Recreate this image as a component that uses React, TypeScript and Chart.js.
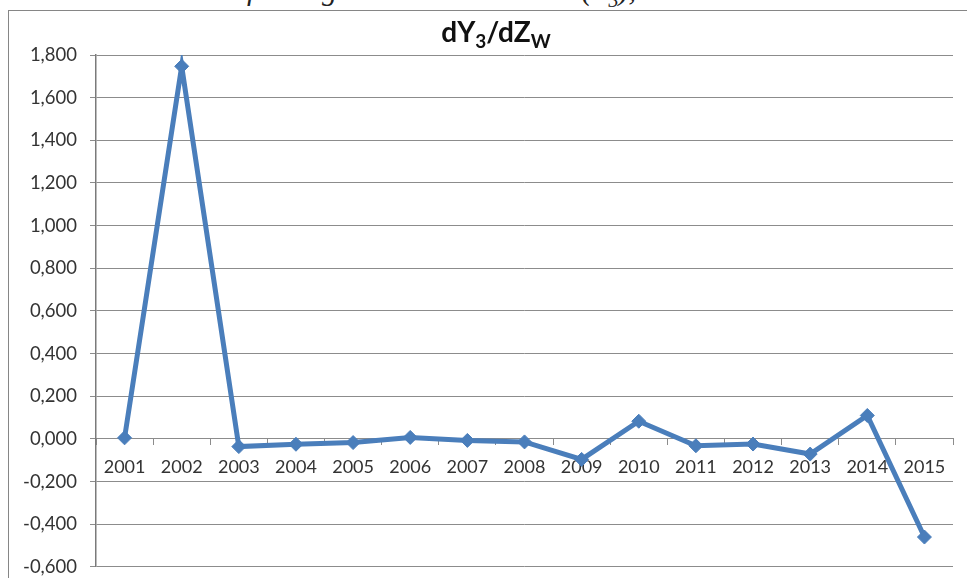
import { useEffect, useRef } from 'react';
import { Chart, registerables } from 'chart.js';

Chart.register(...registerables);

const years = ['2001', '2002', '2003', '2004', '2005', '2006', '2007', '2008', '2009', '2010', '2011', '2012', '2013', '2014', '2015'];
const dY3dZw = [0.005, 1.747, -0.036, -0.025, -0.017, 0.007, -0.007, -0.014, -0.096, 0.083, -0.032, -0.024, -0.071, 0.11, -0.46];
const yMin = -0.6;
const yMax = 1.8;
const yStep = 0.2;

const fmt = (v: number) => {
  const n = Math.abs(v) < 1e-9 ? 0 : v;
  return n.toFixed(3).replace('.', ',');
};

export default function App() {
  const ref = useRef<HTMLCanvasElement | null>(null);

  useEffect(() => {
    if (!ref.current) return;
    const blue = '#4A7EBB';
    const grid = '#8C8C8C';
    const chart = new Chart(ref.current, {
      type: 'line',
      data: {
        labels: years,
        datasets: [
          {
            data: dY3dZw,
            borderColor: blue,
            backgroundColor: blue,
            borderWidth: 5,
            tension: 0,
            pointStyle: 'rectRot',
            pointRadius: 7,
            pointBorderWidth: 1,
            pointBackgroundColor: blue,
            pointBorderColor: blue,
          },
        ],
      },
      options: {
        animation: false,
        responsive: false,
        devicePixelRatio: 1,
        layout: { padding: { left: 0, top: 55, right: 14, bottom: 0 } },
        plugins: {
          legend: { display: false },
          title: { display: false },
          tooltip: { enabled: false },
        },
        scales: {
          x: {
            type: 'category',
            position: { y: 0 } as any,
            offset: true,
            afterFit: (s: any) => {
              s.height = 0;
            },
            grid: {
              drawOnChartArea: false,
              offset: true,
              tickLength: 6,
              color: grid,
              lineWidth: 1,
            },
            border: { display: true, color: grid, width: 1 },
            ticks: {
              color: '#333333',
              font: { family: 'Lato', size: 18 },
              padding: 11,
              maxRotation: 0,
              autoSkip: false,
            },
          },
          y: {
            min: yMin,
            max: yMax,
            afterFit: (s: any) => {
              s.width = 96;
            },
            grid: {
              color: grid,
              lineWidth: 1,
              tickLength: 6,
            },
            border: { display: true, color: '#7A7A7A', width: 1.5 },
            ticks: {
              stepSize: yStep,
              color: '#333333',
              font: { family: 'Lato', size: 18.5 },
              padding: 13,
              callback: (v: any) => fmt(Number(v)),
            },
          },
        },
      },
    });
    return () => chart.destroy();
  }, []);

  return (
    <div
      style={{
        position: 'fixed',
        left: 0,
        top: 0,
        width: 967,
        height: 578,
        overflow: 'hidden',
        background: '#fff',
      }}
    >
      <div
        style={{
          position: 'absolute',
          left: 232,
          top: -25,
          lineHeight: '30px',
          fontFamily: '"Liberation Serif", serif',
          fontStyle: 'italic',
          fontSize: 30,
          color: '#222',
          whiteSpace: 'nowrap',
        }}
      >
        of the agricultural land area (Y<sub style={{ fontSize: 20 }}>3</sub>), 2001–2015
      </div>
      <div
        style={{
          position: 'absolute',
          left: 8,
          top: 10,
          width: 1000,
          height: 600,
          border: '1px solid #868686',
          boxSizing: 'border-box',
        }}
      />
      <canvas
        ref={ref}
        width={967}
        height={591}
        style={{ position: 'absolute', left: 0, top: 0, width: 967, height: 591 }}
      />
      <div
        style={{
          position: 'absolute',
          left: 346,
          top: 17,
          width: 300,
          textAlign: 'center',
          lineHeight: '28px',
          fontFamily: 'Lato, sans-serif',
          fontWeight: 'bold',
          fontSize: 28,
          color: '#111',
          whiteSpace: 'nowrap',
        }}
      >
        dY<sub style={{ fontSize: 19, verticalAlign: '-6px', lineHeight: 0 }}>3</sub>/dZ
        <sub style={{ fontSize: 19, verticalAlign: '-6px', lineHeight: 0 }}>W</sub>
      </div>
    </div>
  );
}
